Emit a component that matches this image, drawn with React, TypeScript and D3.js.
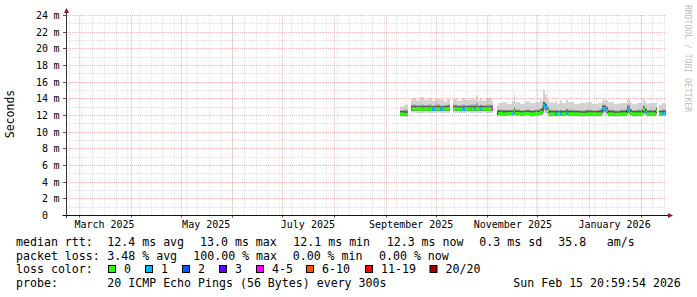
import React from "react";
import * as d3 from "d3";

// ---------- data ----------
const rangeStart = "2025-02-20 21";
const rangeEnd = "2026-02-15 21";

const yTickValues = [0, 2, 4, 6, 8, 10, 12, 14, 16, 18, 20, 22, 24];

// sample start times (each value holds until the next sample)
const sampleTimes = [
  "2025-09-09 00", "2025-09-11 10", "2025-09-13 19", "2025-09-16 01", "2025-09-16 16",
  "2025-09-18 21", "2025-09-21 07", "2025-09-23 17", "2025-09-26 02", "2025-09-28 12",
  "2025-09-30 07", "2025-10-03 07", "2025-10-05 10", "2025-10-07 12", "2025-10-09 07",
  "2025-10-10 22", "2025-10-13 12", "2025-10-16 12", "2025-10-18 07", "2025-10-21 07",
  "2025-10-23 17", "2025-10-24 22", "2025-10-26 02", "2025-10-27 07", "2025-10-28 12",
  "2025-10-30 22", "2025-11-03 05", "2025-11-03 22", "2025-11-06 07", "2025-11-06 22",
  "2025-11-09 12", "2025-11-12 12", "2025-11-15 05", "2025-11-16 10", "2025-11-17 07",
  "2025-11-20 07", "2025-11-23 07", "2025-11-26 07", "2025-11-29 07", "2025-12-02 00",
  "2025-12-03 19", "2025-12-05 00", "2025-12-06 05", "2025-12-07 10", "2025-12-10 02",
  "2025-12-11 07", "2025-12-12 12", "2025-12-14 07", "2025-12-15 12", "2025-12-17 22",
  "2025-12-19 02", "2025-12-22 17", "2025-12-26 07", "2025-12-29 22", "2026-01-02 12",
  "2026-01-06 02", "2026-01-08 05", "2026-01-10 14", "2026-01-12 02", "2026-01-15 17",
  "2026-01-19 07", "2026-01-23 05", "2026-01-25 07", "2026-01-26 12", "2026-01-29 12",
  "2026-02-01 19", "2026-02-03 00", "2026-02-04 12", "2026-02-05 17", "2026-02-09 14",
  "2026-02-10 12", "2026-02-11 10", "2026-02-13 12",
];

// median rtt (ms), null = no data
const medianRtt: (number | null)[] = [
  12.2, 12.15, null, 12.8, 12.8,
  12.8, 12.75, 12.8, 12.75, 12.75,
  12.8, 12.75, 12.8, 12.8, null,
  12.8, 12.75, 12.75, 12.8, 12.75,
  12.8, 12.8, 12.75, 12.8, 12.8,
  12.75, 12.8, null, 12.25, 12.25,
  12.2, 12.25, 12.25, 12.5, 12.25,
  12.2, 12.25, 12.2, 12.25, 12.4,
  13.2, 13.0, 12.6, 12.2, 12.2,
  12.2, 12.2, 12.2, 12.2, 12.3,
  12.2, 12.2, 12.15, 12.2, 12.2,
  12.2, 12.8, 12.6, 12.2, 12.15,
  12.2, 12.7, 12.3, 12.2, 12.2,
  12.7, 12.4, 12.2, 12.2, 12.6,
  null, 12.2, 12.25,
];

// lost pings out of 20
const lossCount = [
  0, 0, 0, 8, 0,
  0, 0, 0, 0, 1,
  0, 1, 0, 0, 0,
  0, 0, 1, 0, 0,
  1, 0, 0, 1, 0,
  0, 4, 0, 12, 0,
  0, 0, 1, 0, 0,
  0, 0, 0, 0, 0,
  1, 1, 0, 0, 0,
  1, 0, 1, 0, 1,
  0, 0, 0, 0, 0,
  0, 1, 1, 0, 0,
  0, 1, 0, 0, 0,
  0, 1, 0, 0, 0,
  0, 0, 1,
];

const smokeMin = [
  11.85, 11.8, 0, 12.3, 12.35,
  12.3, 12.3, 12.35, 12.3, 12.3,
  12.35, 12.3, 12.35, 12.3, 0,
  12.35, 12.3, 12.3, 12.35, 12.3,
  12.3, 12.35, 12.3, 12.3, 12.35,
  12.3, 12.3, 0, 11.85, 11.9,
  11.9, 11.9, 11.9, 12.0, 11.9,
  11.9, 11.9, 11.85, 11.9, 11.95,
  12.3, 12.2, 12.0, 11.85, 11.9,
  11.9, 11.85, 11.9, 11.9, 11.95,
  11.9, 11.85, 11.85, 11.9, 11.85,
  11.9, 12.1, 12.0, 11.85, 11.85,
  11.9, 12.0, 11.9, 11.85, 11.9,
  12.0, 11.95, 11.85, 11.9, 12.0,
  0, 11.9, 11.9,
];

const smokeLow = [
  12.05, 12.0, 0, 12.6, 12.6,
  12.6, 12.55, 12.6, 12.55, 12.55,
  12.6, 12.55, 12.6, 12.6, 0,
  12.6, 12.55, 12.55, 12.6, 12.55,
  12.6, 12.6, 12.55, 12.6, 12.6,
  12.55, 12.6, 0, 12.05, 12.1,
  12.05, 12.1, 12.1, 12.2, 12.1,
  12.05, 12.1, 12.05, 12.1, 12.15,
  12.7, 12.6, 12.3, 12.05, 12.05,
  12.05, 12.05, 12.05, 12.05, 12.1,
  12.05, 12.05, 12.0, 12.05, 12.05,
  12.05, 12.4, 12.3, 12.05, 12.0,
  12.05, 12.3, 12.1, 12.05, 12.05,
  12.3, 12.15, 12.05, 12.05, 12.25,
  0, 12.05, 12.1,
];

const smokeHigh = [
  12.6, 12.7, 0, 13.2, 13.3,
  13.2, 13.3, 13.2, 13.3, 13.2,
  13.3, 13.2, 13.2, 13.3, 0,
  13.3, 13.2, 13.3, 13.2, 13.3,
  13.3, 13.5, 13.2, 13.3, 13.2,
  13.3, 13.2, 0, 12.6, 12.7,
  12.7, 12.6, 12.7, 13.0, 12.7,
  12.6, 12.7, 12.6, 12.7, 12.9,
  13.7, 13.5, 13.1, 12.7, 12.6,
  12.7, 12.6, 12.7, 12.6, 12.8,
  12.7, 12.6, 12.6, 12.7, 12.6,
  12.7, 13.3, 13.1, 12.7, 12.6,
  12.7, 13.3, 12.8, 12.6, 12.7,
  13.2, 12.9, 12.6, 12.7, 13.0,
  0, 12.6, 12.7,
];

const smokeMax = [
  13.1, 13.3, 0, 13.9, 14.1,
  13.8, 14.2, 13.9, 14.1, 13.8,
  14.0, 13.9, 13.7, 14.0, 0,
  14.0, 13.8, 14.1, 13.9, 14.0,
  13.9, 14.4, 13.8, 14.0, 13.8,
  14.1, 13.7, 0, 13.2, 13.5,
  13.6, 13.4, 13.7, 14.5, 13.6,
  13.4, 13.7, 13.5, 13.6, 13.8,
  15.1, 14.5, 14.0, 13.6, 13.5,
  13.7, 13.4, 13.8, 13.5, 13.9,
  13.6, 13.4, 13.5, 13.6, 13.4,
  13.5, 13.9, 13.8, 13.6, 13.4,
  13.5, 13.9, 13.6, 13.4, 13.5,
  13.9, 13.6, 13.4, 13.5, 13.6,
  0, 13.3, 13.5,
];

const lossLabels = ["0", "1", "2", "3", "4-5", "6-10", "11-19", "20/20"];
const lossUpper = [0, 1, 2, 3, 5, 10, 19, 20];
const lossColors = ["#26ff00", "#00b8ff", "#0059ff", "#5e00ff", "#ff00ff", "#ff5500", "#ff0000", "#a00000"];

const rttLabel = "median rtt:";
const rttStats = ["12.4 ms avg", "13.0 ms max", "12.1 ms min", "12.3 ms now", "0.3 ms sd", "35.8", "am/s"];
const lossLabel = "packet loss:";
const lossStats = ["3.48 % avg", "100.00 % max", "0.00 % min", "0.00 % now"];
const colorLabel = "loss color:";
const probeLabel = "probe:";
const probeText = "20 ICMP Echo Pings (56 Bytes) every 300s";
const stampText = "Sun Feb 15 20:59:54 2026";
const yTitle = "Seconds";
const watermark = "RRDTOOL / TOBI OETIKER";

// ---------- layout ----------
const W = 697;
const H = 297;
const PX0 = 66;
const PX1 = 666;
const PY0 = 215.5;
const PY1 = 15.5;
const MONO = "'DejaVu Sans Mono', monospace";

const rttX = [107.3, 200, 293.3, 386.7, 479.3, 558.3, 606.7];
const lossX = [107.3, 193.3, 292.7, 379];
const boxX = [108.5, 145.5, 182.5, 219.5, 256.5, 306.5, 365.5, 430];

const parse = d3.timeParse("%Y-%m-%d %H");

function lossColor(n: number) {
  for (let i = 0; i < lossUpper.length; i++) if (n <= lossUpper[i]) return lossColors[i];
  return lossColors[lossColors.length - 1];
}

export default function App() {
  const t0 = parse(rangeStart) as Date;
  const t1 = parse(rangeEnd) as Date;
  const x = d3.scaleTime().domain([t0, t1]).range([PX0, PX1]);
  const y = d3.scaleLinear().domain([0, 24]).range([PY0, PY1]);
  const crisp = (v: number) => Math.floor(v) + 0.5;

  const times = sampleTimes.map((s) => parse(s) as Date);
  const seg = times.map((t, i) => {
    const tn = i + 1 < times.length ? times[i + 1] : t1;
    return { x0: Math.round(x(t)), x1: Math.round(x(tn)), i, tn };
  });

  const stepPts: { t: Date; v: number | null }[] = [];
  times.forEach((t, i) => {
    const v = medianRtt[i];
    stepPts.push({ t, v });
    const nextNull = i + 1 >= times.length || medianRtt[i + 1] == null;
    if (v != null && nextNull) stepPts.push({ t: seg[i].tn, v });
  });
  const stepLine = d3
    .line<{ t: Date; v: number | null }>()
    .defined((d) => d.v != null)
    .x((d) => Math.round(x(d.t)))
    .y((d) => crisp(y(d.v as number)))
    .curve(d3.curveStepAfter);

  const minorY = d3.range(0, 25, 1);
  const weeks = d3.timeWeek.range(t0, t1);
  const months = d3.timeMonth.range(t0, t1);
  const labelMonths = d3.timeMonth.range(d3.timeMonth.floor(t0), t1).filter((m) => m.getMonth() % 2 === 0);
  const fmt = d3.timeFormat("%B %Y");

  const legendY = [246, 259.5, 273.3, 287];

  return (
    <svg
      width={W}
      height={H}
      viewBox={`0 0 ${W} ${H}`}
      style={{ position: "absolute", left: 0, top: 0, background: "#fff" }}
      fontFamily={MONO}
    >
      <rect x={0} y={0} width={W} height={H} fill="#ffffff" />

      {/* smoke */}
      {seg.map(({ x0, x1, i }) =>
        medianRtt[i] == null ? null : (
          <g key={"s" + i}>
            <rect x={x0} width={x1 - x0} y={y(smokeMax[i])} height={y(smokeMin[i]) - y(smokeMax[i])} fill="#d4d4d4" />
            <rect x={x0} width={x1 - x0} y={y(smokeHigh[i])} height={y(smokeLow[i]) - y(smokeHigh[i])} fill="#9a9a9a" />
            <rect
              x={x0}
              width={x1 - x0}
              y={y((medianRtt[i] as number) + 0.35)}
              height={y((medianRtt[i] as number) - 0.2) - y((medianRtt[i] as number) + 0.35)}
              fill="#555555"
            />
          </g>
        )
      )}

      {/* median black line */}
      <path d={stepLine(stepPts) || ""} fill="none" stroke="#202020" strokeWidth={1} />

      {/* median loss-coloured band */}
      {seg.map(({ x0, x1, i }) =>
        medianRtt[i] == null ? null : (
          <rect
            key={"m" + i}
            x={x0}
            width={x1 - x0}
            y={y(medianRtt[i] as number) - 1.5}
            height={3}
            fill={lossColor(lossCount[i])}
          />
        )
      )}

      {/* grid: minor */}
      <g stroke="#c4c4c4" strokeWidth={1} strokeDasharray="1,1" opacity={0.55}>
        {minorY.filter((v) => v % 2 !== 0).map((v) => (
          <line key={"hy" + v} x1={PX0} x2={PX1} y1={crisp(y(v))} y2={crisp(y(v))} />
        ))}
        {weeks.map((w, k) => (
          <line key={"wx" + k} x1={crisp(x(w))} x2={crisp(x(w))} y1={PY1} y2={PY0} />
        ))}
      </g>
      {/* grid: major */}
      <g stroke="#e08888" strokeWidth={1} strokeDasharray="1,1" opacity={0.6}>
        {yTickValues.filter((v) => v > 0).map((v) => (
          <line key={"my" + v} x1={PX0} x2={PX1} y1={crisp(y(v))} y2={crisp(y(v))} />
        ))}
        {months.map((m, k) => (
          <line key={"mx" + k} x1={crisp(x(m))} x2={crisp(x(m))} y1={PY1} y2={PY0} />
        ))}
      </g>

      {/* ticks */}
      <g stroke="#555" strokeWidth={1}>
        {yTickValues.map((v) => (
          <line key={"ty" + v} x1={63} x2={66} y1={crisp(y(v))} y2={crisp(y(v))} />
        ))}
        {months.map((m, k) => (
          <line key={"tx" + k} x1={crisp(x(m))} x2={crisp(x(m))} y1={PY0} y2={PY0 + 2} />
        ))}
      </g>

      {/* axes */}
      <line x1={62.5} x2={669} y1={PY0} y2={PY0} stroke="#111" strokeWidth={1} />
      <line x1={66.5} x2={66.5} y1={218} y2={12} stroke="#333" strokeWidth={1} />
      <path d={`M668,${PY0 - 2.5} L673,${PY0} L668,${PY0 + 2.5} Z`} fill="#8b1c1c" />
      <path d={`M64,13 L66.5,8 L69,13 Z`} fill="#8b1c1c" />

      {/* y labels */}
      <g fontSize={10} fill="#000">
        {yTickValues.map((v) => (
          <g key={"yl" + v}>
            <text x={48} y={crisp(y(v)) + 3.5} textAnchor="end">
              {v}
            </text>
            {v > 0 && (
              <text x={53.5} y={crisp(y(v)) + 3.5}>
                m
              </text>
            )}
          </g>
        ))}
      </g>

      {/* x labels */}
      <g fontSize={10} fill="#000" textAnchor="middle">
        {labelMonths.map((m, k) => (
          <text key={"xl" + k} x={x(d3.timeDay.offset(m, 15))} y={227.5}>
            {fmt(m)}
          </text>
        ))}
      </g>

      {/* y title */}
      <text transform={`translate(14.3,114) rotate(-90)`} textAnchor="middle" fontSize={11.5} fill="#000">
        {yTitle}
      </text>

      {/* watermark */}
      <text transform={`translate(684.6,5) rotate(90)`} fontSize={8.1} fill="#c0c0c0">
        {watermark}
      </text>

      {/* legend */}
      <g fontSize={11.6} fill="#000">
        <text x={16} y={legendY[0]}>{rttLabel}</text>
        {rttStats.map((s, k) => (
          <text key={"r" + k} x={rttX[k]} y={legendY[0]}>{s}</text>
        ))}
        <text x={16} y={legendY[1]}>{lossLabel}</text>
        {lossStats.map((s, k) => (
          <text key={"l" + k} x={lossX[k]} y={legendY[1]}>{s}</text>
        ))}
        <text x={16} y={legendY[2]}>{colorLabel}</text>
        {lossLabels.map((s, k) => (
          <g key={"c" + k}>
            <rect x={boxX[k]} y={265.5} width={7} height={7} fill={lossColors[k]} stroke="#000" strokeWidth={1} />
            <text x={boxX[k] + 15.5} y={legendY[2]}>{s}</text>
          </g>
        ))}
        <text x={16} y={legendY[3]}>{probeLabel}</text>
        <text x={107.3} y={legendY[3]}>{probeText}</text>
        <text x={513.3} y={legendY[3]}>{stampText}</text>
      </g>
    </svg>
  );
}
